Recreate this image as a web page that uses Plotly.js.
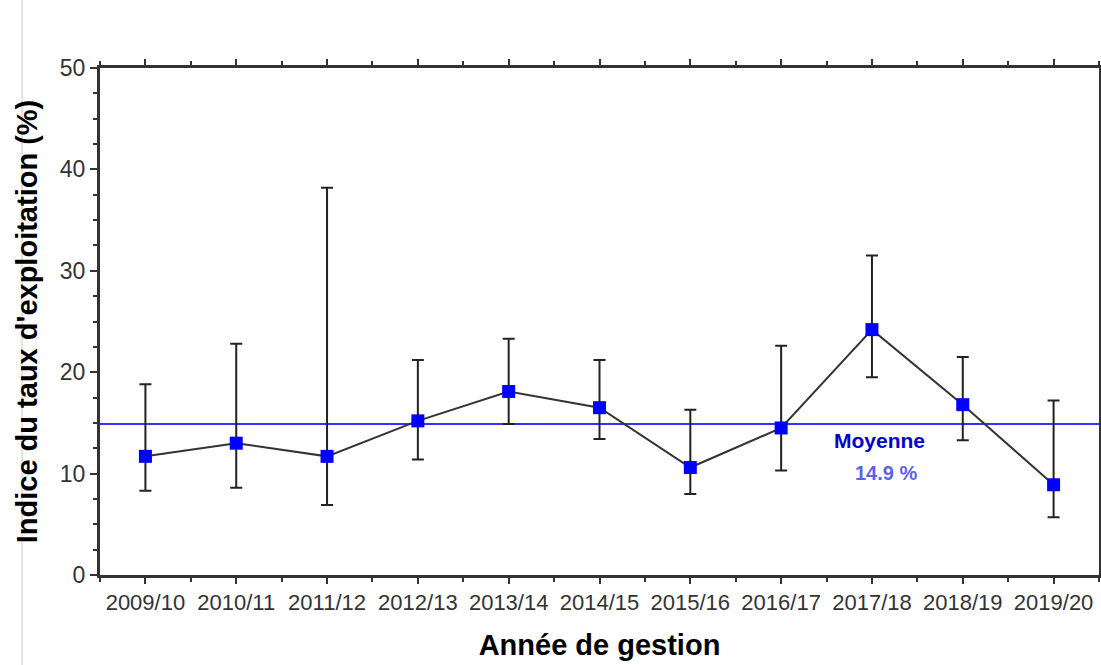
<!DOCTYPE html>
<html><head><meta charset="utf-8">
<script src="https://cdn.plot.ly/plotly-3.0.1.min.js"></script>
<style>html,body{margin:0;padding:0;background:#fff}#chart{width:1101px;height:665px}</style>
</head><body><div id="chart"></div>
<script>
const categories = ["2009/10","2010/11","2011/12","2012/13","2013/14","2014/15","2015/16","2016/17","2017/18","2018/19","2019/20"];
const values = [11.7, 13.0, 11.7, 15.2, 18.1, 16.5, 10.6, 14.5, 24.2, 16.8, 8.9];
const upper  = [18.8, 22.8, 38.2, 21.2, 23.3, 21.2, 16.3, 22.6, 31.5, 21.5, 17.2];
const lower  = [8.3, 8.6, 6.9, 11.4, 14.9, 13.4, 8.0, 10.3, 19.5, 13.3, 5.7];
const meanValue = 14.9;
const yTicks = [0, 10, 20, 30, 40, 50];

const xIdx = categories.map((_, i) => i);
const font = "Liberation Sans, Arial, sans-serif";

const trace = {
  x: xIdx, y: values, type: "scatter", mode: "lines+markers",
  line: {color: "#333333", width: 2},
  marker: {symbol: "square", size: 13, color: "#0000ff"},
  error_y: {type: "data", symmetric: false,
    array: upper.map((u, i) => u - values[i]),
    arrayminus: values.map((v, i) => v - lower[i]),
    color: "#222222", thickness: 2, width: 6},
  showlegend: false, hoverinfo: "skip"
};

const layout = {
  width: 1101, height: 665,
  margin: {l: 100, r: 2, t: 68, b: 90},
  paper_bgcolor: "#ffffff", plot_bgcolor: "#ffffff",
  xaxis: {
    range: [-0.5, 10.5], tickvals: xIdx, ticktext: categories,
    showgrid: false, zeroline: false, showline: true, linecolor: "#333333", linewidth: 3,
    mirror: "ticks", ticks: "outside", ticklen: 6, tickwidth: 2, tickcolor: "#333333",
    minor: {dtick: 0.5, tick0: 0, ticks: "outside", ticklen: 4, tickwidth: 2, tickcolor: "#333333", showgrid: false},
    tickfont: {family: font, size: 22, color: "#333333"},
    title: {text: "<b>Année de gestion</b>", font: {family: font, size: 29, color: "#000000"}, standoff: 21}
  },
  yaxis: {
    range: [0, 50], tickvals: yTicks,
    showgrid: false, zeroline: false, showline: true, linecolor: "#333333", linewidth: 3,
    mirror: true, ticks: "outside", ticklen: 7, tickwidth: 2, tickcolor: "#333333",
    minor: {dtick: 2.5, ticks: "outside", ticklen: 4, tickwidth: 2, tickcolor: "#333333", showgrid: false},
    tickfont: {family: font, size: 23, color: "#333333"},
    title: {text: "<b>Indice du taux d'exploitation (%)</b>", font: {family: font, size: 29, color: "#000000"}, standoff: 14}
  },
  shapes: [
    {type: "line", xref: "paper", yref: "y", x0: 0, x1: 1, y0: meanValue, y1: meanValue,
     line: {color: "#3333ff", width: 2}, layer: "below"},
    {type: "line", xref: "paper", yref: "paper", x0: -0.078, x1: -0.078, y0: -0.2, y1: 1.2,
     line: {color: "#c8c8c8", width: 1}}
  ],
  annotations: [
    {x: 8.08, y: meanValue, xref: "x", yref: "y", yshift: -17, text: "<b>Moyenne</b>", showarrow: false,
     font: {family: font, size: 21, color: "#0000cc"}},
    {x: 8.15, y: meanValue, xref: "x", yref: "y", yshift: -49, text: "<b>" + meanValue + " %</b>", showarrow: false,
     font: {family: font, size: 20, color: "#6060ee"}}
  ]
};

Plotly.newPlot("chart", [trace], layout, {displayModeBar: false, staticPlot: true});
</script></body></html>
